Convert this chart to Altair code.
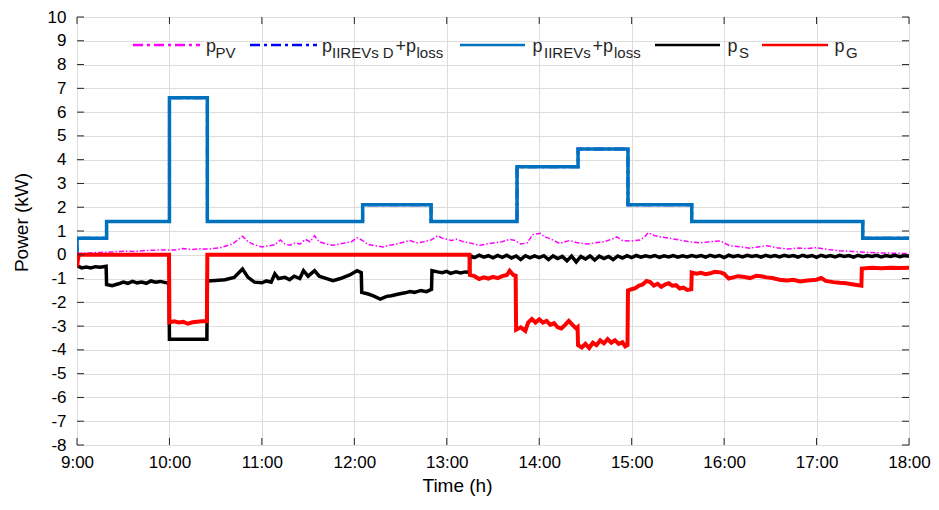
import altair as alt
import pandas as pd

# ---------------- data ----------------
x_ticks = [9, 10, 11, 12, 13, 14, 15, 16, 17, 18]
y_ticks = list(range(-8, 11))

# p_IIREVs + p_loss (step profile)
load_t = [9.0, 9.0, 9.32, 9.32, 10.0, 10.0, 10.41, 10.41, 12.09, 12.09, 12.83, 12.83,
          13.76, 13.76, 14.42, 14.42, 14.96, 14.96, 15.65, 15.65, 17.5, 17.5, 18.0]
load_v = [0.0, 0.7, 0.7, 1.4, 1.4, 6.6, 6.6, 1.4, 1.4, 2.1, 2.1, 1.4,
          1.4, 3.7, 3.7, 4.45, 4.45, 2.1, 2.1, 1.4, 1.4, 0.7, 0.7]

# p_PV
pv_t = [9.0, 9.12, 9.25, 9.38, 9.5, 9.62, 9.75, 9.9, 10.06, 10.15, 10.25, 10.33, 10.42, 10.55,
        10.68, 10.79, 10.85, 10.92, 11.0, 11.08, 11.14, 11.2, 11.25, 11.3, 11.36, 11.41, 11.47,
        11.52, 11.57, 11.62, 11.7, 11.77, 11.84, 11.9, 11.97, 12.03, 12.09, 12.14, 12.22, 12.31,
        12.38, 12.45, 12.52, 12.6, 12.68, 12.75, 12.83, 12.9, 12.95, 13.0, 13.05, 13.11, 13.18,
        13.25, 13.3, 13.36, 13.43, 13.5, 13.6, 13.68, 13.74, 13.8, 13.87, 13.93, 14.01, 14.06,
        14.1, 14.16, 14.22, 14.28, 14.33, 14.4, 14.46, 14.52, 14.6, 14.7, 14.78, 14.84, 14.9,
        15.0, 15.09, 15.14, 15.18, 15.25, 15.31, 15.4, 15.52, 15.62, 15.74, 15.85, 15.96, 16.06,
        16.17, 16.28, 16.37, 16.46, 16.57, 16.68, 16.8, 16.9, 17.0, 17.12, 17.25, 17.4, 17.55,
        17.7, 17.9, 18.0]
pv_v = [0.05, 0.08, 0.1, 0.12, 0.15, 0.14, 0.18, 0.2, 0.2, 0.26, 0.22, 0.25, 0.24, 0.3,
        0.45, 0.78, 0.55, 0.42, 0.33, 0.38, 0.42, 0.62, 0.45, 0.4, 0.5, 0.45, 0.65,
        0.55, 0.8, 0.55, 0.45, 0.4, 0.45, 0.5, 0.55, 0.72, 0.6, 0.45, 0.38, 0.33,
        0.4, 0.45, 0.52, 0.6, 0.5, 0.55, 0.62, 0.8, 0.7, 0.65, 0.6, 0.65, 0.55,
        0.5, 0.45, 0.4, 0.45, 0.5, 0.55, 0.65, 0.6, 0.45, 0.5, 0.85, 0.9, 0.75,
        0.7, 0.6, 0.47, 0.55, 0.6, 0.52, 0.48, 0.45, 0.5, 0.55, 0.65, 0.75, 0.6,
        0.58, 0.62, 0.75, 0.93, 0.8, 0.75, 0.7, 0.62, 0.55, 0.5, 0.55, 0.58, 0.38,
        0.34, 0.28, 0.33, 0.38, 0.3, 0.24, 0.28, 0.26, 0.3, 0.22, 0.17, 0.14, 0.1,
        0.08, 0.06, 0.05]

# p_S (storage)
ps_t = [9.0, 9.05, 9.1, 9.15, 9.2, 9.25, 9.315, 9.32, 9.38, 9.45, 9.5, 9.55, 9.6, 9.65, 9.7,
        9.75, 9.8, 9.85, 9.9, 9.995, 10.0, 10.405, 10.41, 10.5, 10.6, 10.7, 10.79, 10.85, 10.92,
        11.0, 11.05, 11.1, 11.14, 11.18, 11.25, 11.3, 11.35, 11.41, 11.45, 11.5, 11.57, 11.62,
        11.7, 11.77, 11.85, 11.95, 12.03, 12.075, 12.08, 12.15, 12.2, 12.28, 12.35, 12.4, 12.48,
        12.55, 12.6, 12.65, 12.72, 12.78, 12.835, 12.84, 12.9, 12.95, 13.0, 13.04, 13.1, 13.15,
        13.2, 13.245,
        13.25, 13.3, 13.35, 13.4, 13.45, 13.5, 13.55, 13.6, 13.65, 13.7, 13.75, 13.8, 13.85,
        13.9, 13.95, 14.0, 14.05, 14.1, 14.15, 14.2, 14.25, 14.3, 14.35, 14.4, 14.45, 14.5,
        14.55, 14.6, 14.65, 14.7, 14.75, 14.8, 14.85, 14.9, 14.95, 15.0, 15.05, 15.1, 15.15,
        15.2, 15.25, 15.3, 15.35, 15.4, 15.45, 15.5, 15.55, 15.6, 15.65, 15.7, 15.75, 15.8,
        15.85, 15.9, 15.95, 16.0, 16.05, 16.1, 16.15, 16.2, 16.25, 16.3, 16.35, 16.4, 16.45,
        16.5, 16.55, 16.6, 16.65, 16.7, 16.75, 16.8, 16.85, 16.9, 16.95, 17.0, 17.05, 17.1,
        17.15, 17.2, 17.25, 17.3, 17.35, 17.4, 17.45, 17.5, 17.55, 17.6, 17.65, 17.7, 17.75,
        17.8, 17.85, 17.9, 17.95, 18.0]
ps_v = [-0.45, -0.55, -0.52, -0.55, -0.5, -0.52, -0.48, -1.25, -1.3, -1.22, -1.15, -1.2, -1.12,
        -1.18, -1.15, -1.2, -1.1, -1.15, -1.12, -1.2, -3.55, -3.55, -1.1, -1.08, -1.05, -0.95,
        -0.6, -0.95, -1.15, -1.18, -1.1, -1.15, -0.8, -1.0, -0.95, -1.05, -0.9, -1.0, -0.67, -0.9,
        -0.67, -0.9, -1.0, -1.09, -1.0, -0.85, -0.67, -0.75, -1.58, -1.65, -1.72, -1.86, -1.75,
        -1.72, -1.65, -1.6, -1.55, -1.58, -1.5, -1.55, -1.45, -0.67, -0.72, -0.75, -0.7, -0.78,
        -0.72, -0.76, -0.72, -0.74,
        -0.03, -0.12, -0.02, -0.1, -0.04, -0.13, -0.03, -0.11, -0.02, -0.14,
        -0.05, -0.2, -0.04, -0.13, -0.05, -0.12, -0.04, -0.2, -0.05, -0.16,
        -0.07, -0.25, -0.06, -0.3, -0.07, -0.18, -0.05, -0.22, -0.06, -0.16,
        -0.07, -0.2, -0.05, -0.14, -0.04, -0.12, -0.03, -0.1, -0.04, -0.09,
        -0.03, -0.11, -0.04, -0.09, -0.03, -0.1, -0.04, -0.09, -0.03, -0.08,
        -0.03, -0.1, -0.02, -0.08, -0.03, -0.12, -0.02, -0.08, -0.03, -0.09,
        -0.02, -0.07, -0.03, -0.1, -0.02, -0.08, -0.03, -0.09, -0.02, -0.07,
        -0.03, -0.1, -0.02, -0.08, -0.03, -0.11, -0.02, -0.08, -0.03, -0.09,
        -0.02, -0.07, -0.03, -0.1, -0.02, -0.08, -0.03, -0.07, -0.02, -0.09,
        -0.03, -0.07, -0.02, -0.08, -0.03, -0.06]

# p_G (grid)
pg_t = [9.0, 9.01, 9.02, 9.995, 10.0, 10.05, 10.1, 10.15, 10.2, 10.25, 10.3, 10.35, 10.405,
        10.41, 13.245, 13.25, 13.3, 13.35, 13.4, 13.45, 13.5, 13.55, 13.6, 13.65, 13.68, 13.72,
        13.745, 13.75, 13.8, 13.85, 13.88, 13.92, 13.96, 14.0, 14.04, 14.08, 14.12, 14.16, 14.2,
        14.24, 14.28, 14.32, 14.36, 14.4, 14.415, 14.42, 14.46, 14.5, 14.54, 14.58, 14.62, 14.66,
        14.7, 14.74, 14.78, 14.82, 14.86, 14.9, 14.93, 14.955, 14.96, 15.0, 15.04, 15.08, 15.12,
        15.16, 15.2, 15.24, 15.28, 15.32, 15.36, 15.4, 15.44, 15.48, 15.52, 15.56, 15.6, 15.645,
        15.65, 15.7, 15.75, 15.8, 15.85, 15.9, 15.96, 16.0, 16.05, 16.1, 16.15, 16.2, 16.28,
        16.35, 16.4, 16.46, 16.52, 16.6, 16.68, 16.75, 16.82, 16.9, 17.0, 17.05, 17.1, 17.18,
        17.25, 17.32, 17.4, 17.485, 17.49, 17.6, 17.7, 17.8, 17.9, 18.0]
pg_v = [-0.5, -0.2, 0.0, 0.0, -2.85, -2.8, -2.85, -2.82, -2.9, -2.84, -2.82, -2.8, -2.8,
        0.0, 0.0, -0.85, -0.9, -1.02, -0.95, -1.0, -0.93, -0.98, -0.9, -0.85, -0.67, -0.85,
        -0.88, -3.15, -3.05, -3.2, -2.85, -2.7, -2.85, -2.72, -2.85, -2.78, -2.95, -2.88, -3.05,
        -3.1, -2.95, -2.78, -2.95, -3.1, -3.05, -3.8, -3.9, -3.75, -3.92, -3.7, -3.8, -3.6,
        -3.72, -3.55, -3.7, -3.6, -3.75, -3.68, -3.85, -3.8, -1.5, -1.45, -1.4, -1.3, -1.25,
        -1.1, -1.15, -1.3, -1.22, -1.35, -1.25, -1.2, -1.3, -1.28, -1.42, -1.38, -1.48, -1.45,
        -0.75, -0.8, -0.76, -0.82, -0.78, -0.72, -0.74, -0.8, -1.0, -0.95, -0.9, -0.92, -0.98,
        -0.88, -0.9, -0.95, -0.98, -1.05, -1.08, -1.05, -1.12, -1.08, -1.05, -0.98, -1.1, -1.15,
        -1.18, -1.2, -1.25, -1.3, -0.58, -0.55, -0.57, -0.55, -0.56, -0.55]

# ---------------- chart ----------------
W, H = 832, 428
FONT = "Liberation Sans"
TXT = "#262626"

C_PV = "#FF00FF"
C_D = "#0000FF"
C_LOAD = "#0072BD"
C_S = "#000000"
C_G = "#FF0000"


def frame(t, v):
    return pd.DataFrame({"t": t, "v": v, "o": list(range(len(t)))})


xscale = alt.Scale(domain=[9, 18], nice=False, zero=False)
yscale = alt.Scale(domain=[-8, 10], nice=False, zero=False)
xaxis = alt.Axis(values=x_ticks, labelExpr="floor(datum.value) + ':00'", title="Time (h)",
                 ticks=False, domain=False, grid=True, labelPadding=9, labelFontSize=17,
                 titleFontSize=19, titleFontWeight="normal", titleX=380, titleY=31,
                 titleBaseline="top", labelFlush=False)
yaxis = alt.Axis(values=y_ticks,
                 labelExpr="datum.value < 0 ? '-' + abs(datum.value) : '' + datum.value",
                 title="Power (kW)", ticks=False, domain=False, grid=True,
                 labelPadding=11, labelFontSize=17, titleFontSize=19, titleFontWeight="normal",
                 titleX=-46, titleY=205, titleBaseline="bottom", labelFlush=False)

X = alt.X("t:Q", scale=xscale, axis=xaxis)
Y = alt.Y("v:Q", scale=yscale, axis=yaxis)


def line(df, color, width, dash=None):
    kw = dict(color=color, strokeWidth=width, clip=True, strokeJoin="miter")
    if dash:
        kw["strokeDash"] = dash
    return alt.Chart(df).mark_line(**kw).encode(x=X, y=Y, order="o:Q")


one = pd.DataFrame({"k": [0]})


def txt(s, x, y, size):
    return alt.Chart(one).mark_text(align="left", baseline="alphabetic", fontSize=size,
                                    font=FONT, color=TXT).encode(
        x=alt.value(x), y=alt.value(y), text=alt.value(s))


def leg_line(x1, x2, y, color, dash=None):
    kw = dict(color=color, strokeWidth=2.5)
    if dash:
        kw["strokeDash"] = dash
    return alt.Chart(one).mark_rule(**kw).encode(x=alt.value(x1), x2=alt.value(x2), y=alt.value(y))


ytk = pd.DataFrame({"v": y_ticks})
xtk = pd.DataFrame({"t": x_ticks})
tick_kw = dict(color=TXT, strokeWidth=1)
ticks = [
    alt.Chart(ytk).mark_rule(**tick_kw).encode(x=alt.value(0), x2=alt.value(7), y=Y),
    alt.Chart(ytk).mark_rule(**tick_kw).encode(x=alt.value(W - 7), x2=alt.value(W), y=Y),
    alt.Chart(xtk).mark_rule(**tick_kw).encode(x=X, y=alt.value(H - 7), y2=alt.value(H)),
    alt.Chart(xtk).mark_rule(**tick_kw).encode(x=X, y=alt.value(0), y2=alt.value(7)),
]

lines = [
    line(frame(load_t, load_v), C_D, 3, [10, 4, 3, 4]),
    line(frame(load_t, load_v), C_LOAD, 3.5),
    line(frame(pv_t, pv_v), C_PV, 1.5, [5, 2, 1.5, 2]),
    line(frame(ps_t, ps_v), C_S, 3.5),
    line(frame(pg_t, pg_v), C_G, 4),
]

MAIN, SUB = 18, 15
BY, SY, LY = 35, 41, 28
legend = [
    leg_line(56, 123, LY, C_PV, [10, 4, 3, 4]),
    txt("p", 129, BY, MAIN), txt("PV", 138.5, SY, SUB),
    leg_line(173, 240, LY, C_D, [10, 4, 3, 4]),
    txt("p", 245, BY, MAIN), txt("IIREVs D", 255, SY, SUB), txt("+p", 318.5, BY, MAIN),
    txt("loss", 339.5, SY, SUB),
    leg_line(383, 448, LY, C_LOAD),
    txt("p", 455.5, BY, MAIN), txt("IIREVs", 467, SY, SUB), txt("+p", 515.5, BY, MAIN),
    txt("loss", 537, SY, SUB),
    leg_line(578, 643, LY, C_S),
    txt("p", 650.5, BY, MAIN), txt("S", 662, SY, SUB),
    leg_line(685, 751, LY, C_G),
    txt("p", 757.5, BY, MAIN), txt("G", 769, SY, SUB),
]

chart = alt.layer(*lines, *ticks, *legend).properties(
    width=W, height=H,
    autosize=alt.AutoSizeParams(type="none"),
    padding={"left": 69, "top": 9, "right": 22, "bottom": 57},
).configure_view(
    stroke=TXT, strokeWidth=1.5
).configure_axis(
    labelFont=FONT, titleFont=FONT, labelColor=TXT, titleColor=TXT,
    gridColor="#dedede", gridWidth=1, gridOpacity=1
).configure(background="white")

chart.save("out.html", embed_options={"renderer": "svg", "actions": False})
